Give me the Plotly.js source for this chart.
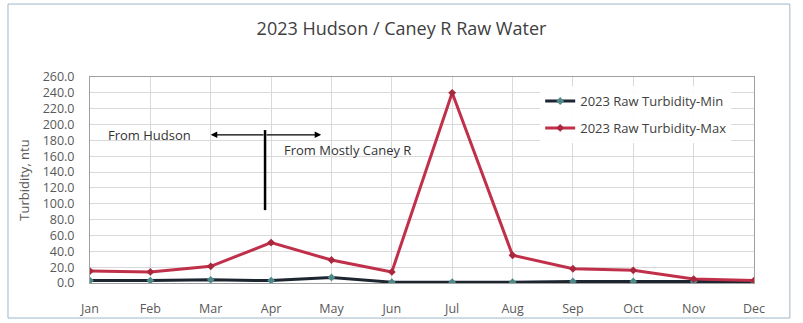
<!DOCTYPE html>
<html><head><meta charset="utf-8">
<script src="https://cdn.plot.ly/plotly-3.0.1.min.js"></script>
<style>body{margin:0;background:#fff}#c{width:803px;height:323px}</style>
</head><body><div id="c"></div>
<script>
const months = ["Jan","Feb","Mar","Apr","May","Jun","Jul","Aug","Sep","Oct","Nov","Dec"];
const turbMin = [3,3,4,3,7,1,1,1,2,2,2,2];
const turbMax = [15,14,21,51,29,14,240,35,18,16,5,3];
const yTicks = [0,20,40,60,80,100,120,140,160,180,200,220,240,260];

const traces = [
 {x:months,y:turbMin,name:"2023 Raw Turbidity-Min",mode:"lines+markers",legendgroup:"a",
  line:{color:"#1c2530",width:3},marker:{color:"#4f8a8b",size:6,symbol:"diamond"}},
 {x:months,y:turbMax,name:"2023 Raw Turbidity-Max",mode:"lines+markers",legendgroup:"b",
  line:{color:"#c0304a",width:3},marker:{color:"#a8283e",size:6,symbol:"diamond"}}
];
const layout = {
 width:803,height:323,
 margin:{l:90,r:49,t:77,b:40},
 paper_bgcolor:"#ffffff",plot_bgcolor:"#ffffff",
 font:{family:"Open Sans, DejaVu Sans, sans-serif",color:"#595959",size:12},
 title:{text:"2023 Hudson / Caney R Raw Water",x:0.5,xanchor:"center",y:0.91,yanchor:"middle",
  font:{size:18,color:"#404040"}},
 xaxis:{type:"category",range:[0,11],showgrid:true,gridcolor:"#d9d9d9",
  showline:true,linecolor:"#a0a0a0",mirror:true,ticks:"",tickfont:{size:12.5,color:"#595959"},ticklabelstandoff:14},
 yaxis:{range:[0,260],tickvals:yTicks,tickformat:".1f",showgrid:true,gridcolor:"#d9d9d9",
  showline:true,linecolor:"#a0a0a0",mirror:true,zeroline:false,ticks:"",
  tickfont:{size:12.5,color:"#595959"},ticklabelstandoff:12,
  title:{text:"Turbidity, ntu",font:{size:13,color:"#595959"},standoff:10}},
 showlegend:true,
 legend:{x:0.678,xanchor:"left",y:0.956,yanchor:"top",bgcolor:"rgba(255,255,255,0.9)",borderwidth:0,
  font:{size:13,color:"#404040"},tracegroupgap:7},
 shapes:[
  {type:"rect",xref:"paper",yref:"paper",x0:-0.1235,x1:1.054,y0:-0.17,y1:1.354,line:{color:"#9fb6c8",width:1}},
  {type:"line",xref:"x",yref:"y",x0:2.9,x1:2.9,y0:92,y1:193,line:{color:"#000",width:2.5}}
 ],
 annotations:[
  {x:2.0,y:187,ax:2.9,ay:187,xref:"x",yref:"y",axref:"x",ayref:"y",text:"",showarrow:true,arrowhead:2,arrowsize:1,arrowwidth:1.3,arrowcolor:"#000"},
  {x:3.83,y:187,ax:2.9,ay:187,xref:"x",yref:"y",axref:"x",ayref:"y",text:"",showarrow:true,arrowhead:2,arrowsize:1,arrowwidth:1.3,arrowcolor:"#000"},
  {x:0.26,y:187,xref:"x",yref:"y",text:"From Hudson",showarrow:false,xanchor:"left",font:{size:13,color:"#333"}},
  {x:3.18,y:168,xref:"x",yref:"y",text:"From Mostly Caney R",showarrow:false,xanchor:"left",font:{size:13,color:"#333"}}
 ]
};
Plotly.newPlot("c",traces,layout,{displayModeBar:false,staticPlot:true});
</script></body></html>
